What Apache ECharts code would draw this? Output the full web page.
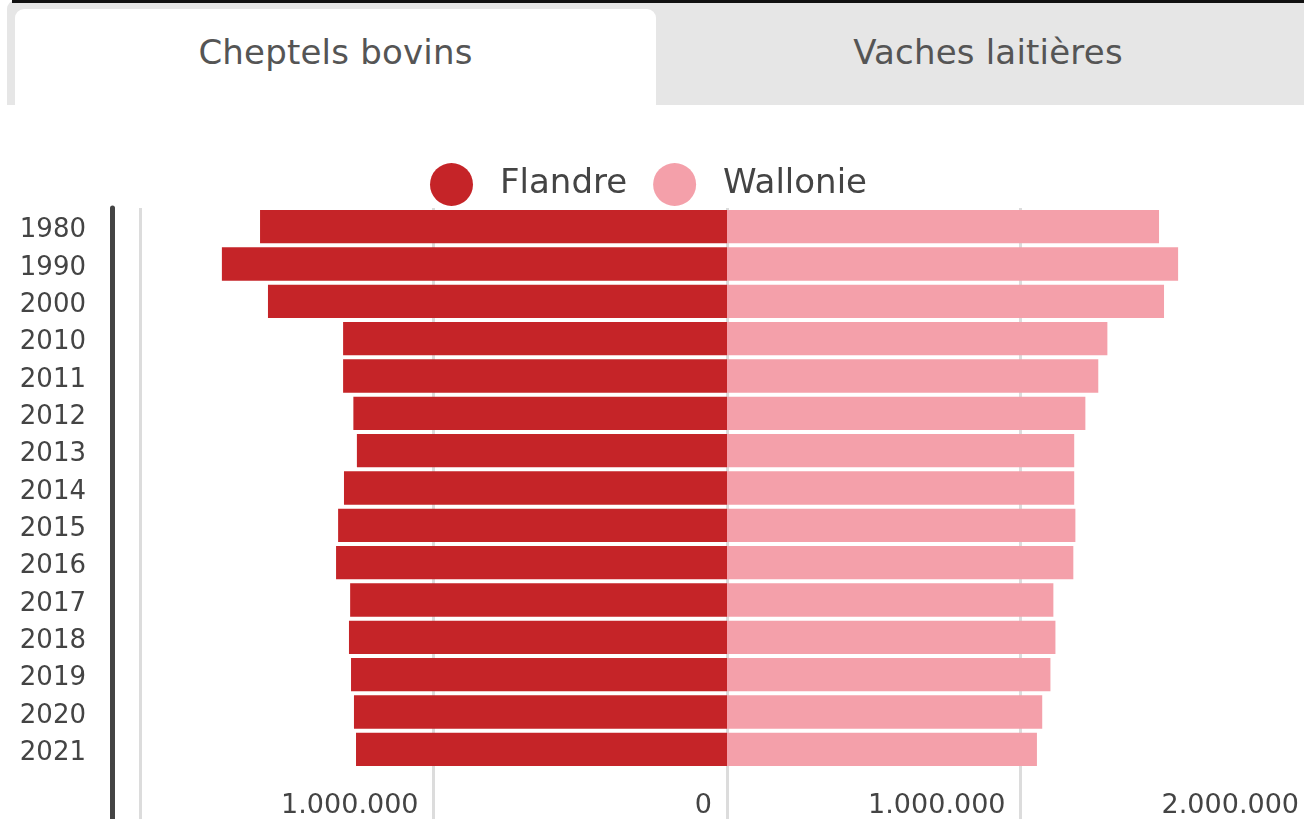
<!DOCTYPE html>
<html>
<head>
<meta charset="utf-8">
<script src="https://cdn.jsdelivr.net/npm/echarts@6/dist/echarts.min.js"></script>
<style>
  html, body { margin: 0; padding: 0; background: #ffffff; overflow: hidden; }
  body { width: 1304px; height: 819px; position: relative; font-family: "DejaVu Sans", sans-serif; }
  #tabs { position: absolute; left: 7px; top: 0; width: 1310px; height: 105px; background: #e6e6e6;
          border-top-left-radius: 9px; z-index: 2; }
  #topline { position: absolute; left: 12px; top: 0; width: 1300px; height: 2.5px; background: #111; z-index: 3; }
  .tab { position: absolute; top: 9px; height: 96px; display: flex; align-items: center; justify-content: center;
         font-size: 34px; color: #555; letter-spacing: 0.2px; }
  #tab1 { left: 8px; width: 641px; background: #ffffff; border-radius: 9px 9px 0 0; }
  #tab2 { left: 649px; width: 664px; }
  #chart { position: absolute; left: 0; top: 0; width: 1320px; height: 819px; z-index: 1; }
</style>
</head>
<body>
<div id="chart"></div>
<div id="tabs">
  <div class="tab" id="tab1"><span style="margin-top:-11px">Cheptels bovins</span></div>
  <div class="tab" id="tab2"><span style="margin-top:-11px">Vaches laitières</span></div>
</div>
<div id="topline"></div>
<script>
const years = ['1980','1990','2000','2010','2011','2012','2013','2014','2015','2016','2017','2018','2019','2020','2021'];
const flandre = [1591000,1721000,1564000,1308000,1308000,1273000,1261000,1305000,1325000,1332000,1284000,1288000,1281000,1271000,1264000];
const wallonie = [1472000,1537000,1489000,1296000,1265000,1221000,1183000,1183000,1187000,1180000,1112000,1119000,1102000,1074000,1056000];
const xMin = -2000000, xMax = 2000000, xStep = 1000000;
const seriesNames = ['Flandre','Wallonie'];

function fmt(v) {
  const s = String(Math.round(Math.abs(v)));
  return s.replace(/\B(?=(\d{3})+(?!\d))/g, '.');
}

const FONT = '"DejaVu Sans", sans-serif';
const chart = echarts.init(document.getElementById('chart'), null, { renderer: 'canvas' });
chart.setOption({
  animation: false,
  textStyle: { fontFamily: FONT },
  color: ['#c52428', '#f4a0aa'],
  legend: {
    data: seriesNames,
    top: 158,
    left: 425,
    icon: 'circle',
    itemWidth: 43,
    itemHeight: 43,
    itemGap: 26,
    textStyle: { fontSize: 34, color: '#444', fontFamily: FONT, padding: [0, 0, 0, 22] }
  },
  grid: [
    { left: 140, top: 208, width: 1174, height: 564 },
    { left: 140, top: 766, width: 1174, height: 66 }
  ],
  xAxis: [
    {
      gridIndex: 0, type: 'value', min: xMin, max: xMax, interval: xStep,
      axisLine: { show: false }, axisTick: { show: false },
      splitLine: { show: true, lineStyle: { color: '#dcdcdc', width: 3 } },
      axisLabel: { showMinLabel: false, align: 'right', padding: [0, 15, 0, 0], margin: 24,
                   fontSize: 27, color: '#444', fontFamily: FONT, formatter: fmt }
    },
    {
      gridIndex: 1, type: 'value', min: xMin, max: xMax, interval: xStep,
      axisLine: { show: false }, axisTick: { show: false }, axisLabel: { show: false },
      splitLine: { show: true, lineStyle: { color: '#dcdcdc', width: 3 } }
    }
  ],
  yAxis: [
    {
      gridIndex: 0, type: 'category', data: years, inverse: true, offset: 28,
      axisLine: { show: true, onZero: false, lineStyle: { color: '#444', width: 5 } },
      axisTick: { show: false },
      axisLabel: { margin: 26, fontSize: 26, color: '#444', fontFamily: FONT,
                   verticalAlign: 'top', lineHeight: 8 }
    },
    {
      gridIndex: 1, type: 'value', min: 0, max: 1, offset: 28,
      axisLine: { show: true, onZero: false, lineStyle: { color: '#444', width: 5 } },
      axisTick: { show: false }, axisLabel: { show: false }, splitLine: { show: false }
    }
  ],
  series: [
    {
      name: seriesNames[0], type: 'bar', stack: 'total', xAxisIndex: 0, yAxisIndex: 0,
      barCategoryGap: '10.5%',
      data: flandre.map(v => -v)
    },
    {
      name: seriesNames[1], type: 'bar', stack: 'total', xAxisIndex: 0, yAxisIndex: 0,
      barCategoryGap: '10.5%',
      data: wallonie
    }
  ]
});
</script>
</body>
</html>
